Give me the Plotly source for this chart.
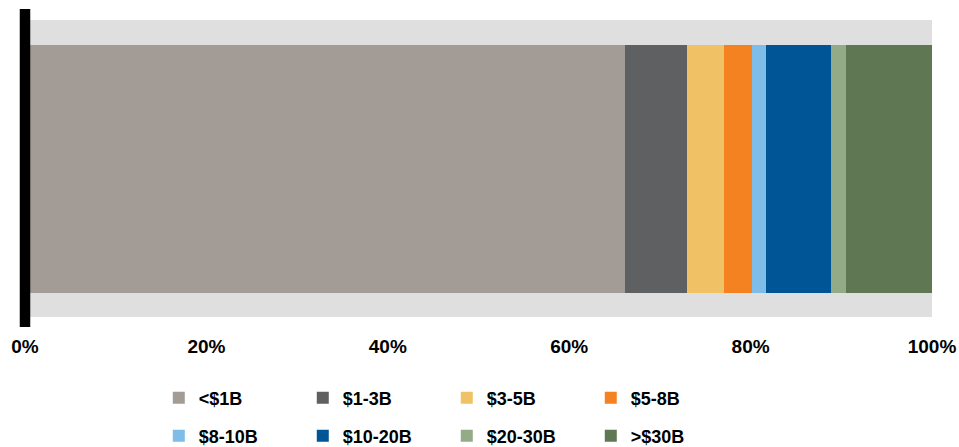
import plotly.graph_objects as go

categories = ["<$1B", "$1-3B", "$3-5B", "$5-8B", "$8-10B", "$10-20B", "$20-30B", ">$30B"]
shares = [66.2, 6.8, 4.1, 3.0, 1.65, 7.15, 1.65, 9.45]
colors = ["#a39b95", "#5f6062", "#f0c165", "#f58220", "#7dbde8", "#005596", "#93ab87", "#607754"]
tick_values = [0, 20, 40, 60, 80, 100]
tick_labels = ["0%", "20%", "40%", "60%", "80%", "100%"]

FONT = "Liberation Sans, Arial, sans-serif"

fig = go.Figure()
for i, (name, val, col) in enumerate(zip(categories, shares, colors)):
    fig.add_trace(go.Bar(
        x=[val], y=["All"], orientation="h", name=name,
        marker=dict(color=col, line=dict(width=0)),
        legend="legend" if i < 4 else "legend2",
        hovertemplate=name + ": %{x:.1f}%<extra></extra>",
    ))

legend_common = dict(
    orientation="h", xanchor="left", yanchor="middle",
    font=dict(family=FONT, size=18, color="#000000", weight="bold"),
    entrywidth=99, entrywidthmode="pixels",
    bgcolor="rgba(0,0,0,0)", traceorder="normal",
)

fig.update_layout(
    width=959, height=447,
    margin=dict(l=24.5, r=27, t=20, b=130, autoexpand=False),
    paper_bgcolor="#ffffff", plot_bgcolor="#dfdfdf",
    barmode="stack", bargap=0.165,
    showlegend=True,
    legend=dict(x=0.1475, y=-0.2727, **legend_common),
    legend2=dict(x=0.1475, y=-0.4007, **legend_common),
    xaxis=dict(
        range=[0, 100], tickvals=tick_values, ticktext=tick_labels,
        showgrid=False, zeroline=False, showline=False, automargin=False,
        ticks="outside", ticklen=12, tickcolor="rgba(0,0,0,0)",
        tickfont=dict(family=FONT, size=19, color="#000000", weight="bold"),
        fixedrange=True,
    ),
    yaxis=dict(visible=False, range=[-0.5, 0.5], fixedrange=True, automargin=False),
    shapes=[dict(
        type="line", xref="paper", yref="paper", x0=0, x1=0, y0=-0.034, y1=1.037,
        line=dict(color="#000000", width=10.5), layer="above",
    )],
)

fig.write_html(
    "out.html",
    config={"displayModeBar": False},
    post_script="document.body.style.margin='0';document.body.style.padding='0';"
                "document.documentElement.style.overflow='hidden';",
)
